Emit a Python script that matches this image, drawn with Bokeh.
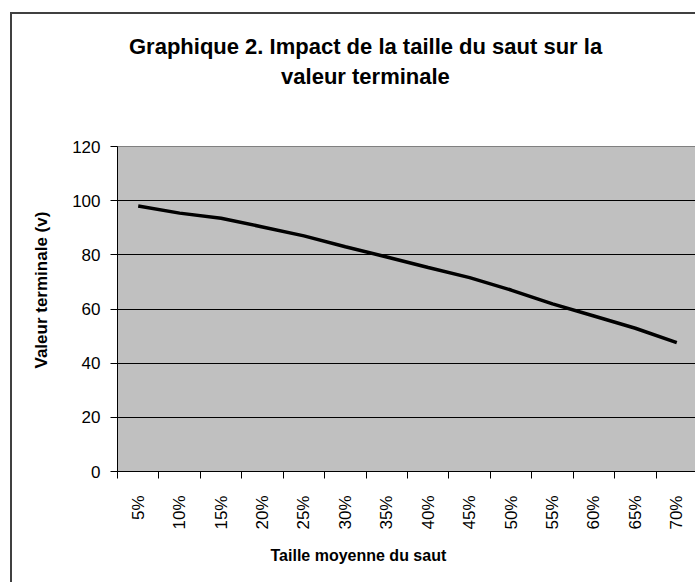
from math import pi
from bokeh.plotting import figure
from bokeh.models import FixedTicker, Range1d, Title, ColumnDataSource
from bokeh.embed import file_html
from bokeh.resources import INLINE

categories = ["5%", "10%", "15%", "20%", "25%", "30%", "35%",
              "40%", "45%", "50%", "55%", "60%", "65%", "70%"]
valeurs = [98.0, 95.4, 93.5, 90.3, 87.0, 83.0, 79.2,
           75.3, 71.6, 67.0, 61.9, 57.4, 52.9, 47.6]
y_ticks = [0, 20, 40, 60, 80, 100, 120]
titre_l1 = "Graphique 2. Impact de la taille du saut sur la"
titre_l2 = "valeur terminale"
titre_x = "Taille moyenne du saut"
titre_y = "Valeur terminale (v)"

FONT = "Liberation Sans"
n = len(categories)
centres = [i + 0.5 for i in range(n)]
bornes = list(range(n + 1))

src = ColumnDataSource(dict(x=centres, v=valeurs, cat=categories))

p = figure(width=685, height=570, output_backend="svg", toolbar_location=None,
           title=None,
           x_range=Range1d(0, n), y_range=Range1d(y_ticks[0], y_ticks[-1]),
           min_border_left=105, min_border_right=0,
           min_border_top=132, min_border_bottom=113)
p.styles = {"border-left": "2px solid #404040", "border-top": "2px solid #404040",
            "margin-left": "10px", "margin-top": "12px"}

p.background_fill_color = "#C0C0C0"
p.border_fill_color = "white"
p.outline_line_color = "#808080"
p.outline_line_width = 1

p.line("x", "v", source=src, line_color="black", line_width=3.5)

# x axis: labels at category centres, ticks at category boundaries
xa = p.xaxis[0]
xa.ticker = FixedTicker(ticks=centres, minor_ticks=bornes)
xa.major_label_overrides = {c: lab for c, lab in zip(centres, categories)}
xa.major_tick_out = 0
xa.major_tick_in = 0
xa.minor_tick_out = 7
xa.minor_tick_in = 0
xa.minor_tick_line_color = "black"
xa.axis_line_color = "black"
xa.major_label_orientation = pi / 2
xa.major_label_standoff = 17
xa.major_label_text_font = FONT
xa.major_label_text_font_size = "17px"
xa.major_label_text_color = "black"

ya = p.yaxis[0]
ya.ticker = FixedTicker(ticks=y_ticks)
ya.major_tick_out = 7
ya.major_tick_in = 0
ya.minor_tick_line_color = None
ya.major_tick_line_color = "black"
ya.axis_line_color = "black"
ya.major_label_standoff = 10
ya.major_label_text_font = FONT
ya.major_label_text_font_size = "17px"
ya.major_label_text_color = "black"

p.xgrid.grid_line_color = None
p.ygrid.ticker = FixedTicker(ticks=y_ticks)
p.ygrid.grid_line_color = "black"
p.ygrid.grid_line_width = 1

def titre(text, side, size, offset, standoff, valign):
    p.add_layout(Title(text=text, align="left", offset=offset, standoff=standoff,
                       vertical_align=valign, text_font=FONT, text_font_size=size,
                       text_font_style="bold", text_color="black"), side)

# above: spacer (nearest the frame), then line 2, then line 1
p.add_layout(Title(text="\u00a0", text_font_size="10px", standoff=45), "above")
titre(titre_l2, "above", "22px", 163.6, 0, "bottom")
titre(titre_l1, "above", "22px", 11.5, 6, "bottom")
titre(titre_y, "left", "17px", 103, 34, "top")
titre(titre_x, "below", "16px", 153, 28, "top")

open("out.html", "w").write(file_html(p, INLINE))
